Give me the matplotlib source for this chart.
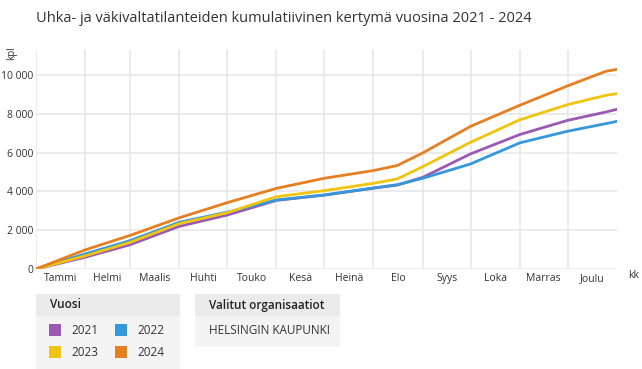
import matplotlib
matplotlib.use("Agg")
import matplotlib.pyplot as plt
import matplotlib.patches as patches
from matplotlib.ticker import FuncFormatter, FixedLocator, NullFormatter

plt.rcParams['font.family'] = ['Open Sans', 'DejaVu Sans']

W, H = 642, 369

# day of year for each reading point
days = [0, 31, 59, 90, 120, 151, 181, 212, 227, 243, 273, 304, 334, 358, 365]

y2021 = [0, 610, 1250, 2200, 2780, 3540, 3810, 4170, 4330, 4730, 5940, 6940, 7670, 8100, 8240]
y2022 = [0, 780, 1460, 2410, 2930, 3560, 3820, 4180, 4350, 4680, 5420, 6510, 7110, 7500, 7620]
y2023 = [0, 680, 1370, 2340, 2900, 3730, 4040, 4420, 4650, 5280, 6540, 7700, 8480, 8960, 9050]
y2024 = [0, 990, 1730, 2640, 3420, 4160, 4680, 5080, 5340, 5990, 7360, 8450, 9450, 10200, 10300]

month_starts = [0, 31, 59, 90, 120, 151, 181, 212, 243, 273, 304, 334]
months = ['Tammi', 'Helmi', 'Maalis', 'Huhti', 'Touko', 'Kesä',
          'Heinä', 'Elo', 'Syys', 'Loka', 'Marras', 'Joulu']

series = [('2021', y2021, '#9b59b6'), ('2022', y2022, '#3498db'),
          ('2023', y2023, '#f1c40f'), ('2024', y2024, '#e67e22')]

fig = plt.figure(figsize=(W / 100, H / 100), dpi=100)


def fx(x):
    return x / W


def fy(y):
    return 1 - y / H


ax = fig.add_axes([fx(36), fy(269), fx(617) - fx(36), fy(50) - fy(269)])

for name, vals, col in series:
    ax.plot(days, vals, color=col, lw=2, solid_joinstyle='round', zorder=3)

ax.set_xlim(0, 365)
ax.set_ylim(0, 11300)

ax.xaxis.set_major_locator(FixedLocator(month_starts))
ax.xaxis.set_major_formatter(NullFormatter())
mids = [(a + b) / 2 for a, b in zip(month_starts, month_starts[1:] + [365])]
ax.xaxis.set_minor_locator(FixedLocator(mids))
ax.set_xticklabels(months, minor=True)
ax.tick_params(axis='x', which='both', length=0, labelsize=7.5, colors='#333333', pad=3)
ax.set_yticks([0, 2000, 4000, 6000, 8000, 10000])
ax.yaxis.set_major_formatter(FuncFormatter(lambda v, p: f"{v:,.0f}".replace(",", " ")))
ax.tick_params(axis='y', length=0, labelsize=7.5, colors='#333333', pad=2)

ax.grid(True, which='major', color='#e8e8e8', lw=1.2, zorder=0)
for s in ax.spines.values():
    s.set_visible(False)

fig.text(fx(36), fy(18), 'Uhka- ja väkivaltatilanteiden kumulatiivinen kertymä vuosina 2021 - 2024',
         fontsize=10.5, color='#333333', va='center', ha='left')
fig.text(fx(12), fy(53), 'kpl', rotation=90, fontsize=7, color='#333333', va='center', ha='center')
fig.text(fx(634), fy(276), 'kk', fontsize=7.5, color='#333333', va='center', ha='center')


def box(x0, y0, x1, y1, col):
    fig.add_artist(patches.Rectangle((fx(x0), fy(y1)), fx(x1) - fx(x0), fy(y0) - fy(y1),
                                     transform=fig.transFigure, facecolor=col, edgecolor='none'))


# legend box
box(36, 294, 180, 316, '#ebebeb')
box(36, 316, 180, 369, '#f4f4f4')
fig.text(fx(50), fy(305), 'Vuosi', fontsize=8.5, weight='semibold', color='#222222', va='center')
pos = [(49, 330), (115, 330), (49, 352), (115, 352)]
for (name, vals, col), (px, py) in zip(series, pos):
    box(px, py - 6, px + 12, py + 6, col)
    fig.text(fx(px + 22), fy(py), name, fontsize=8.5, color='#333333', va='center')

# organisation box
box(195, 294, 340, 316, '#ebebeb')
box(195, 316, 340, 347, '#f4f4f4')
fig.text(fx(209), fy(305), 'Valitut organisaatiot', fontsize=8.5, weight='semibold',
         color='#222222', va='center')
fig.text(fx(209), fy(330), 'HELSINGIN KAUPUNKI', fontsize=8.5, color='#333333', va='center')

fig.savefig('out.png', dpi=100)
